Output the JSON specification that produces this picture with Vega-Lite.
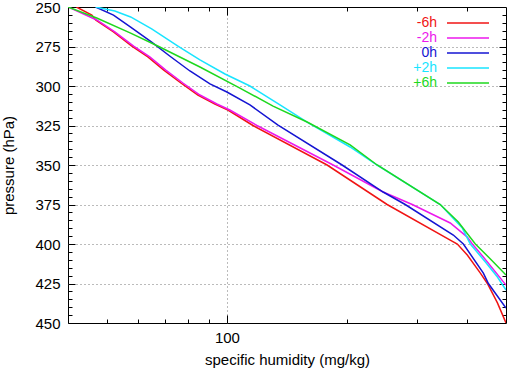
{
  "$schema": "https://vega.github.io/schema/vega-lite/v6.json",
  "width": 438,
  "height": 316,
  "autosize": "none",
  "padding": {"left": 68, "top": 7, "right": 7, "bottom": 46},
  "background": "white",
  "view": {"stroke": "#000000", "strokeWidth": 1},
  "config": {
    "font": "Liberation Sans",
    "axis": {"labelFont": "Liberation Sans", "labelFontSize": 15, "labelColor": "#000", "titleFont": "Liberation Sans", "titleFontSize": 15, "titleFontWeight": "normal", "titleColor": "#000", "tickColor": "#000", "domain": false, "grid": false},
    "legend": {"labelFont": "Liberation Sans", "labelFontSize": 14}
  },
  "data": {"values": [
    {"t":"-6h","q":42.0,"p":250},{"t":"-6h","q":45.9,"p":255.1},{"t":"-6h","q":46.9,"p":258.2},{"t":"-6h","q":52.0,"p":265.8},{"t":"-6h","q":57.8,"p":274.7},{"t":"-6h","q":63.4,"p":281.6},{"t":"-6h","q":69.5,"p":289.9},{"t":"-6h","q":76.7,"p":298.1},{"t":"-6h","q":84.6,"p":305.7},{"t":"-6h","q":93.3,"p":311.4},{"t":"-6h","q":100.6,"p":315.2},{"t":"-6h","q":116.2,"p":325},{"t":"-6h","q":178.2,"p":350},{"t":"-6h","q":251.9,"p":375},{"t":"-6h","q":362.5,"p":397.5},{"t":"-6h","q":377.6,"p":400},{"t":"-6h","q":400,"p":407},{"t":"-6h","q":431.3,"p":418.4},{"t":"-6h","q":449.1,"p":425},{"t":"-6h","q":475.9,"p":437.3},{"t":"-6h","q":500,"p":450},
    {"t":"-2h","q":40,"p":250},{"t":"-2h","q":47.2,"p":258.2},{"t":"-2h","q":52.4,"p":265.8},{"t":"-2h","q":58.4,"p":274.7},{"t":"-2h","q":64.1,"p":281.6},{"t":"-2h","q":70.3,"p":289.9},{"t":"-2h","q":77.6,"p":298.1},{"t":"-2h","q":85.6,"p":305.7},{"t":"-2h","q":94.4,"p":311.4},{"t":"-2h","q":101.7,"p":315.2},{"t":"-2h","q":118.9,"p":325},{"t":"-2h","q":184.5,"p":350},{"t":"-2h","q":246.2,"p":367.1},{"t":"-2h","q":291.2,"p":375},{"t":"-2h","q":362.5,"p":386.7},{"t":"-2h","q":400,"p":395.6},{"t":"-2h","q":411.8,"p":400},{"t":"-2h","q":438.8,"p":408.2},{"t":"-2h","q":500,"p":426},
    {"t":"0h","q":46.9,"p":250},{"t":"0h","q":52.0,"p":255.1},{"t":"0h","q":57.4,"p":262.7},{"t":"0h","q":64.8,"p":272.2},{"t":"0h","q":71.9,"p":281},{"t":"0h","q":80.8,"p":290.5},{"t":"0h","q":90.7,"p":298.7},{"t":"0h","q":100,"p":303.8},{"t":"0h","q":114.2,"p":312},{"t":"0h","q":134.3,"p":324.7},{"t":"0h","q":194.3,"p":350},{"t":"0h","q":246.2,"p":367.1},{"t":"0h","q":279.6,"p":375},{"t":"0h","q":369,"p":394.3},{"t":"0h","q":391,"p":400},{"t":"0h","q":438.8,"p":418.4},{"t":"0h","q":451.7,"p":425},{"t":"0h","q":500,"p":440.5},
    {"t":"+2h","q":46.9,"p":250},{"t":"+2h","q":52.4,"p":252.5},{"t":"+2h","q":57.4,"p":256.3},{"t":"+2h","q":64.8,"p":263.9},{"t":"+2h","q":75.4,"p":274.7},{"t":"+2h","q":85.6,"p":283.5},{"t":"+2h","q":98.9,"p":292.4},{"t":"+2h","q":114.2,"p":300},{"t":"+2h","q":135.8,"p":312},{"t":"+2h","q":158.8,"p":322.8},{"t":"+2h","q":203.5,"p":338.6},{"t":"+2h","q":237.8,"p":350},{"t":"+2h","q":342.2,"p":375},{"t":"+2h","q":388.7,"p":389.9},{"t":"+2h","q":407,"p":400},{"t":"+2h","q":444,"p":411.4},{"t":"+2h","q":475.9,"p":420.9},{"t":"+2h","q":500,"p":429.1},
    {"t":"+6h","q":40,"p":250},{"t":"+6h","q":47.2,"p":257},{"t":"+6h","q":57.4,"p":266.5},{"t":"+6h","q":67.1,"p":274.7},{"t":"+6h","q":85.6,"p":288},{"t":"+6h","q":107.8,"p":301.3},{"t":"+6h","q":130.5,"p":312.7},{"t":"+6h","q":158.8,"p":322.8},{"t":"+6h","q":203.5,"p":337.3},{"t":"+6h","q":237.8,"p":350},{"t":"+6h","q":342.2,"p":375},{"t":"+6h","q":379.8,"p":386.1},{"t":"+6h","q":419,"p":400},{"t":"+6h","q":459.6,"p":410.1},{"t":"+6h","q":500,"p":419.6}
  ]},
  "resolve": {"axis": {"x": "independent", "y": "independent"}},
  "layer": [
    {
      "mark": {"type": "point", "opacity": 0},
      "encoding": {
        "x": {"field": "q", "type": "quantitative", "scale": {"type": "log", "domain": [40, 500], "nice": false},
          "axis": {"orient": "top", "values": [50, 60, 70, 80, 90, 200, 300, 400], "labels": false, "tickSize": -4, "title": null}},
        "y": {"field": "p", "type": "quantitative", "scale": {"domain": [250, 450], "reverse": true, "nice": false, "zero": false},
          "axis": {"orient": "right", "values": [255,260,265,270,280,285,290,295,305,310,315,320,330,335,340,345,355,360,365,370,380,385,390,395,405,410,415,420,430,435,440,445], "labels": false, "tickSize": -4, "title": null}}
      }
    },
    {
      "mark": {"type": "point", "opacity": 0},
      "encoding": {
        "x": {"field": "q", "type": "quantitative",
          "axis": {"orient": "bottom", "values": [50, 60, 70, 80, 90, 200, 300, 400], "labels": false, "tickSize": -4, "title": null}},
        "y": {"field": "p", "type": "quantitative",
          "axis": {"orient": "left", "values": [255,260,265,270,280,285,290,295,305,310,315,320,330,335,340,345,355,360,365,370,380,385,390,395,405,410,415,420,430,435,440,445], "labels": false, "tickSize": -4, "title": null}}
      }
    },
    {
      "mark": {"type": "point", "opacity": 0},
      "encoding": {
        "x": {"field": "q", "type": "quantitative",
          "axis": {"orient": "top", "values": [100], "labels": false, "tickSize": -8, "title": null}},
        "y": {"field": "p", "type": "quantitative",
          "axis": {"orient": "right", "values": [275, 300, 325, 350, 375, 400, 425], "labels": false, "tickSize": -7, "title": null}}
      }
    },
    {
      "mark": {"type": "line", "strokeWidth": 1.5, "clip": true},
      "encoding": {
        "x": {"field": "q", "type": "quantitative",
          "axis": {"orient": "bottom", "values": [100], "tickSize": -8, "labelPadding": 15, "title": "specific humidity (mg/kg)", "titlePadding": 7,
            "grid": true, "gridColor": "#777", "gridDash": [1, 3], "gridWidth": 1}},
        "y": {"field": "p", "type": "quantitative",
          "axis": {"orient": "left", "values": [250, 275, 300, 325, 350, 375, 400, 425, 450], "tickSize": -7, "labelPadding": 15, "title": "pressure (hPa)", "titlePadding": 18,
            "grid": true, "gridColor": "#777", "gridDash": [1, 3], "gridWidth": 1,
            "gridOpacity": {"condition": {"test": "datum.value == 250 || datum.value == 450", "value": 0}, "value": 1}}},
        "color": {"field": "t", "type": "nominal",
          "scale": {"domain": ["-6h", "-2h", "0h", "+2h", "+6h"], "range": ["#f01414", "#ec18ec", "#1414d2", "#18e4ff", "#1ed81e"]},
          "legend": {"orient": "none", "legendX": 378, "legendY": 9, "title": null, "symbolType": "M-1,0H6", "symbolSize": 144, "symbolStrokeWidth": 1.5,
            "labelAlign": "right", "labelOffset": -23, "rowPadding": 1, "padding": 0,
            "encode": {"labels": {"update": {"fill": {"scale": "color", "field": "value"}, "lineHeight": {"value": 14}}}}}},
        "order": {"field": "p", "type": "quantitative"}
      }
    }
  ]
}
